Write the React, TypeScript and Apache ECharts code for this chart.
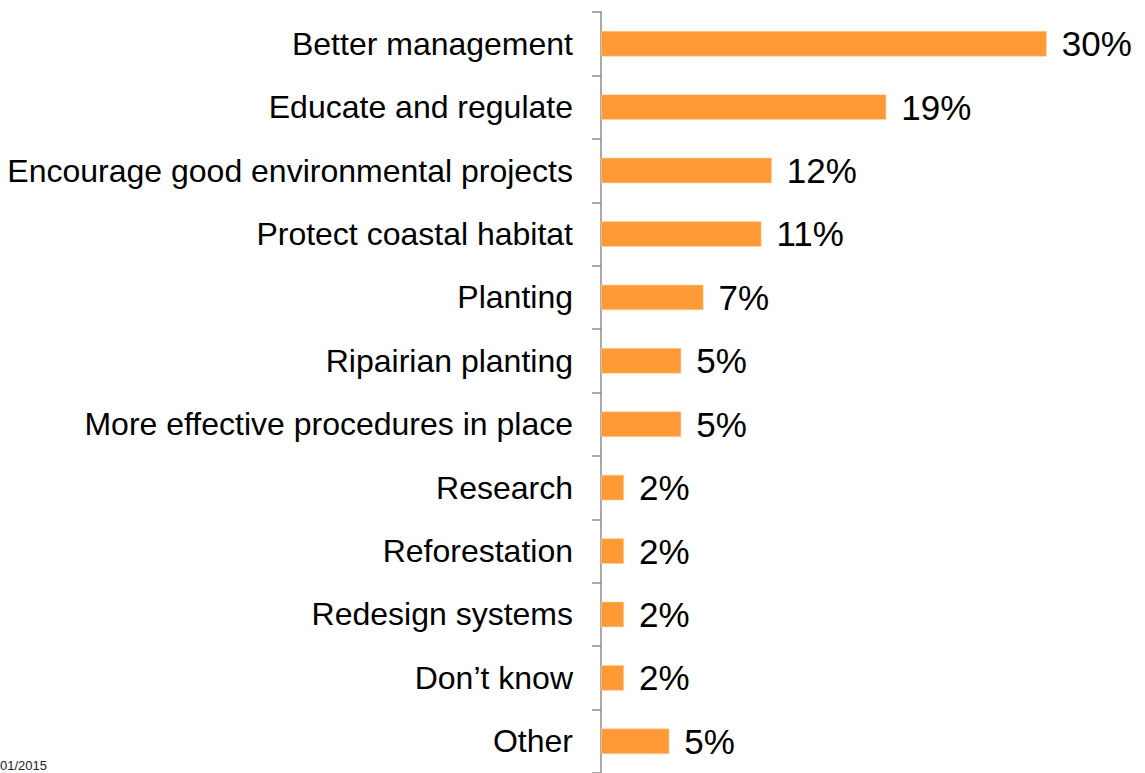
import React, { useEffect, useRef } from "react";
import * as echarts from "echarts";

const categories = [
  "Better management",
  "Educate and regulate",
  "Encourage good environmental projects",
  "Protect coastal habitat",
  "Planting",
  "Ripairian planting",
  "More effective procedures in place",
  "Research",
  "Reforestation",
  "Redesign systems",
  "Don\u2019t know",
  "Other",
];
const values = [30, 19.2, 11.5, 10.8, 6.9, 5.4, 5.4, 1.55, 1.55, 1.55, 1.55, 4.6];
const valueLabels = ["30%", "19%", "12%", "11%", "7%", "5%", "5%", "2%", "2%", "2%", "2%", "5%"];
const footnote = "01/2015";

const FONT = "'Liberation Sans', Arial, sans-serif";

export default function App() {
  const ref = useRef<HTMLDivElement>(null);
  useEffect(() => {
    document.body.style.margin = "0";
    const chart = echarts.init(ref.current!, null, { renderer: "svg" });
    chart.setOption({
      animation: false,
      backgroundColor: "#ffffff",
      grid: { left: 601, top: 12, width: 445.7, height: 764.7, containLabel: false },
      xAxis: { type: "value", min: 0, max: 30, show: false },
      yAxis: {
        type: "category",
        inverse: true,
        data: categories,
        axisLine: { show: true, lineStyle: { color: "#8c8c8c", width: 1.5 } },
        axisTick: { show: true, length: 9, lineStyle: { color: "#8c8c8c", width: 1.5 } },
        axisLabel: { color: "#000", fontSize: 32, fontFamily: FONT, margin: 28 },
        splitLine: { show: false },
      },
      series: [
        {
          type: "bar",
          data: values,
          barWidth: 25.5,
          itemStyle: { color: "#FF9A36", borderColor: "#FFD2A6", borderWidth: 0.6 },
          label: {
            show: true,
            position: "right",
            distance: 15,
            fontSize: 35,
            fontFamily: FONT,
            color: "#000",
            formatter: (p: any) => valueLabels[p.dataIndex],
          },
        },
      ],
      graphic: [
        {
          type: "text",
          left: 0,
          top: 759,
          style: { text: footnote, fontSize: 13, fontFamily: FONT, fill: "#222" },
        },
      ],
    });
    return () => chart.dispose();
  }, []);
  return <div ref={ref} style={{ width: 1145, height: 773 }} />;
}
